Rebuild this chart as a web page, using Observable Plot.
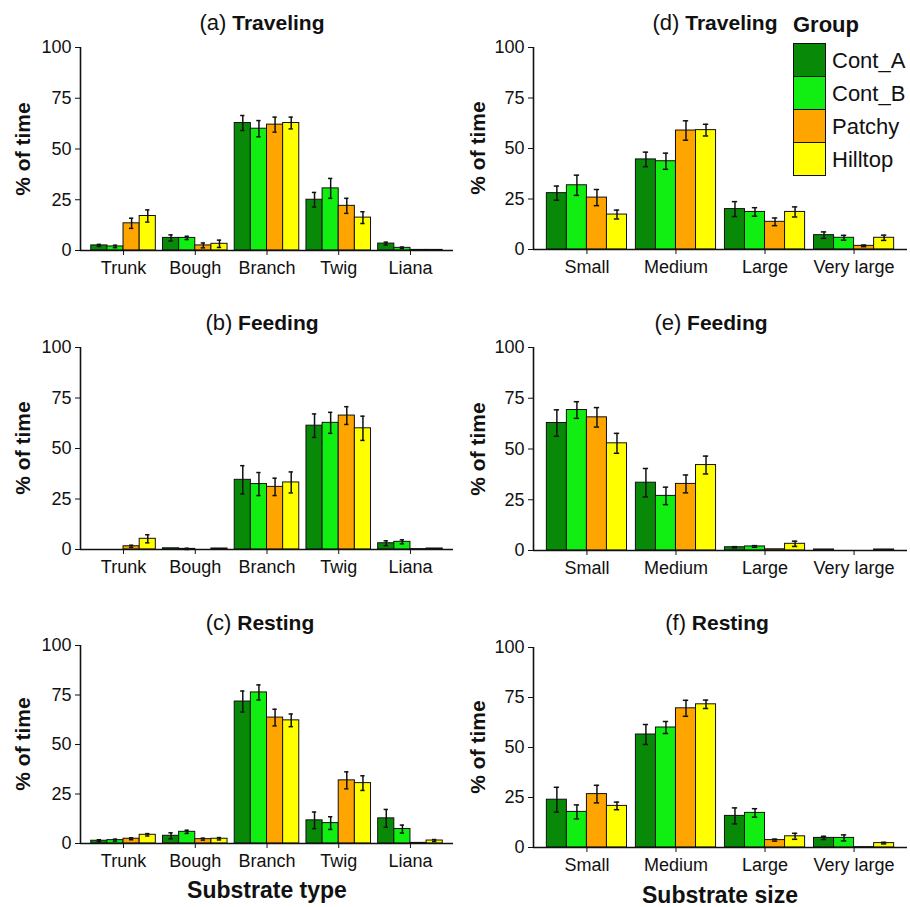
<!DOCTYPE html>
<html>
<head>
<meta charset="utf-8">
<script src="https://cdn.jsdelivr.net/npm/d3@7"></script>
<script src="https://cdn.jsdelivr.net/npm/@observablehq/plot@0.6"></script>
<style>
  body { margin: 0; background: #fff; }
  #root { position: relative; width: 910px; height: 907px; overflow: hidden; background: #fff;
          font-family: "Liberation Sans", Arial, sans-serif; color: #111; }
  .panel { position: absolute; }
  .title { position: absolute; width: 300px; text-align: center; font-size: 21px; line-height: 21px; white-space: nowrap; }
  .title .tag { font-weight: normal; font-size: 22px; }
  .title b { font-weight: bold; }
  .ylab { position: absolute; font-weight: bold; font-size: 21px; line-height: 21px; white-space: nowrap;
          transform: translate(-50%, -50%) rotate(-90deg); }
  .xlab { position: absolute; width: 300px; text-align: center; font-weight: bold; font-size: 23px; line-height: 23px; white-space: nowrap; }
  .legend { position: absolute; left: 793px; top: 14px; }
  .legend .lt { font-weight: bold; font-size: 22px; line-height: 22px; margin-bottom: 8px; }
  .legend .row { display: flex; align-items: center; height: 33px; }
  .legend .sw { width: 31px; height: 32px; border: 1px solid #111; margin-top: -1px; box-sizing: content-box; }
  .legend .lab { font-size: 22px; margin-left: 6px; }
</style>
</head>
<body>
<div id="root"></div>
<script>
// ---------- data ----------
const groups = ["Cont_A", "Cont_B", "Patchy", "Hilltop"];
const groupColors = ["#088a08", "#11ee11", "#ffa500", "#ffff00"];
const typeCats = ["Trunk", "Bough", "Branch", "Twig", "Liana"];
const sizeCats = ["Small", "Medium", "Large", "Very large"];
const yTicks = [0, 25, 50, 75, 100];

// rows = groups (Cont_A, Cont_B, Patchy, Hilltop), columns = categories
// (a) Traveling – substrate type
const aMean = [
  [2.5, 6.2, 62.8, 25.0, 3.4],
  [2.0, 6.2, 60.0, 30.6, 1.3],
  [13.4, 2.5, 62.0, 22.0, 0.3],
  [17.0, 3.3, 62.8, 16.2, 0.3]
];
const aErr = [
  [0.5, 1.5, 3.7, 3.6, 0.7],
  [0.6, 0.8, 4.0, 4.9, 0.4],
  [2.5, 1.2, 3.7, 3.7, 0],
  [3.0, 1.8, 2.9, 2.9, 0]
];
// (b) Feeding – substrate type
const bMean = [
  [0, 0.6, 34.5, 61.3, 3.1],
  [0, 0.3, 32.4, 62.7, 3.8],
  [1.6, 0, 31.0, 66.3, 0.2],
  [5.3, 0.5, 33.2, 60.0, 0.5]
];
const bErr = [
  [0, 0, 7.0, 5.8, 1.2],
  [0, 0.3, 5.7, 5.2, 1.0],
  [0.5, 0, 4.3, 4.4, 0],
  [2.0, 0, 5.2, 6.0, 0]
];
// (c) Resting – substrate type
const cMean = [
  [1.4, 3.9, 71.7, 11.7, 12.7],
  [1.7, 5.9, 76.3, 10.3, 7.3],
  [2.4, 2.2, 63.6, 31.9, 0.3],
  [4.4, 2.4, 62.2, 30.5, 1.5]
];
const cErr = [
  [0.5, 1.5, 5.3, 4.2, 4.5],
  [0.5, 0.8, 3.8, 3.2, 2.0],
  [0.5, 0.5, 4.2, 4.3, 0],
  [0.6, 0.6, 3.2, 3.7, 0.5]
];
// (d) Traveling – substrate size
const dMean = [
  [27.9, 44.6, 20.0, 7.1],
  [31.8, 43.7, 18.6, 5.8],
  [25.7, 58.9, 13.7, 1.8],
  [17.3, 59.1, 18.6, 5.8]
];
const dErr = [
  [3.5, 3.6, 3.7, 1.6],
  [5.0, 4.0, 2.1, 1.2],
  [4.0, 4.8, 1.9, 0.4],
  [2.2, 2.9, 2.5, 1.3]
];
// (e) Feeding – substrate size
const eMean = [
  [62.8, 33.4, 1.6, 0.5],
  [69.2, 26.9, 2.0, 0],
  [65.6, 32.8, 0.6, 0],
  [52.8, 42.1, 3.3, 0.5]
];
const eErr = [
  [6.5, 7.0, 0.3, 0],
  [4.1, 4.3, 0.4, 0],
  [4.8, 4.4, 0, 0],
  [4.9, 4.4, 1.3, 0]
];
// (f) Resting – substrate size
const fMean = [
  [23.9, 56.5, 15.8, 4.8],
  [17.8, 60.0, 17.3, 4.8],
  [26.7, 69.6, 3.7, 0.2],
  [20.8, 71.6, 5.6, 2.2]
];
const fErr = [
  [6.2, 5.0, 4.0, 0.8],
  [3.5, 3.0, 2.1, 1.5],
  [4.4, 4.0, 0.5, 0],
  [1.9, 2.1, 1.5, 0.4]
];

// ---------- layout ----------
const panels = [
  {tag: "(a)", name: "Traveling", cats: typeCats, mean: aMean, err: aErr, left: 0,   top: 0,   H: 300, ml: 80, mr: 2, mt: 47, mb: 50, tx: 262, tb: 30},
  {tag: "(b)", name: "Feeding",   cats: typeCats, mean: bMean, err: bErr, left: 0,   top: 300, H: 300, ml: 80, mr: 2, mt: 47, mb: 51, tx: 262, tb: 330},
  {tag: "(c)", name: "Resting",   cats: typeCats, mean: cMean, err: cErr, left: 0,   top: 600, H: 307, ml: 80, mr: 2, mt: 45, mb: 64, tx: 260, tb: 630},
  {tag: "(d)", name: "Traveling", cats: sizeCats, mean: dMean, err: dErr, left: 455, top: 0,   H: 300, ml: 78, mr: 3, mt: 47, mb: 51, tx: 715, tb: 30},
  {tag: "(e)", name: "Feeding",   cats: sizeCats, mean: eMean, err: eErr, left: 455, top: 300, H: 300, ml: 78, mr: 3, mt: 47, mb: 50, tx: 711, tb: 330},
  {tag: "(f)", name: "Resting",   cats: sizeCats, mean: fMean, err: fErr, left: 455, top: 600, H: 307, ml: 78, mr: 3, mt: 47, mb: 60, tx: 717, tb: 630}
];
const xLabels = [
  {text: "Substrate type", cx: 267, base: 898},
  {text: "Substrate size", cx: 720, base: 903}
];

const root = document.getElementById("root");
const barW = 0.225;   // dodge width (0.9 / 4)
const cap = 0.03;     // error-bar cap half width
const font = '"Liberation Sans", Arial, sans-serif';

function buildRows(cats, mean, err) {
  const out = [];
  mean.forEach((vals, gi) => vals.forEach((v, ci) => out.push({
    cat: cats[ci], ci, group: groups[gi], gi, value: v, err: err[gi][ci]
  })));
  return out;
}
const pos = d => d.ci + (d.gi - 1.5) * barW;

panels.forEach(p => {
  const rows = buildRows(p.cats, p.mean, p.err);
  const errRows = rows.filter(d => d.err > 0);
  const xDom = [-0.6, p.cats.length - 0.4];
  const chart = Plot.plot({
    width: 455, height: p.H,
    marginLeft: p.ml, marginRight: p.mr, marginTop: p.mt, marginBottom: p.mb,
    style: {fontFamily: font, fontSize: "18px", color: "#111", background: "transparent", overflow: "visible"},
    x: {domain: xDom, axis: null},
    y: {domain: [0, 100], axis: null},
    color: {domain: groups, range: groupColors},
    marks: [
      Plot.rect(rows, {
        x1: d => pos(d) - barW / 2, x2: d => pos(d) + barW / 2,
        y1: d => 0, y2: "value",
        fill: "group", stroke: "#111", strokeWidth: 1
      }),
      Plot.ruleX(errRows, {x: pos, y1: d => d.value - d.err, y2: d => d.value + d.err, stroke: "#111", strokeWidth: 1.5}),
      Plot.ruleY(errRows, {y: d => d.value + d.err, x1: d => pos(d) - cap, x2: d => pos(d) + cap, stroke: "#111", strokeWidth: 1.5}),
      Plot.ruleY(errRows, {y: d => d.value - d.err, x1: d => pos(d) - cap, x2: d => pos(d) + cap, stroke: "#111", strokeWidth: 1.5}),
      Plot.ruleY([0], {stroke: "#111", strokeWidth: 1.6}),
      Plot.ruleX([xDom[0]], {y1: d => 0, y2: d => 100, stroke: "#111", strokeWidth: 1.6}),
      Plot.axisX(d3.range(p.cats.length), {tickFormat: i => p.cats[i], tickSize: 5, tickPadding: 6, fontSize: 18, stroke: "#111"}),
      Plot.axisY(yTicks, {tickSize: 5, tickPadding: 4, fontSize: 18, label: null, stroke: "#111"})
    ]
  });
  const div = document.createElement("div");
  div.className = "panel";
  div.style.left = p.left + "px";
  div.style.top = p.top + "px";
  div.appendChild(chart);
  root.appendChild(div);

  const t = document.createElement("div");
  t.className = "title";
  t.style.left = (p.tx - 150) + "px";
  t.style.top = (p.tb - 18) + "px";
  t.innerHTML = `<span class="tag">${p.tag}</span> <b>${p.name}</b>`;
  root.appendChild(t);

  const yl = document.createElement("div");
  yl.className = "ylab";
  yl.style.left = (p.left + 22) + "px";
  yl.style.top = (p.top + (p.mt + p.H - p.mb) / 2) + "px";
  yl.textContent = "% of time";
  root.appendChild(yl);
});

xLabels.forEach(l => {
  const d = document.createElement("div");
  d.className = "xlab";
  d.style.left = (l.cx - 150) + "px";
  d.style.top = (l.base - 19) + "px";
  d.textContent = l.text;
  root.appendChild(d);
});

// legend
const lg = document.createElement("div");
lg.className = "legend";
lg.innerHTML = `<div class="lt">Group</div>` + groups.map((g, i) =>
  `<div class="row"><div class="sw" style="background:${groupColors[i]}"></div><div class="lab">${g}</div></div>`
).join("");
root.appendChild(lg);
</script>
</body>
</html>
